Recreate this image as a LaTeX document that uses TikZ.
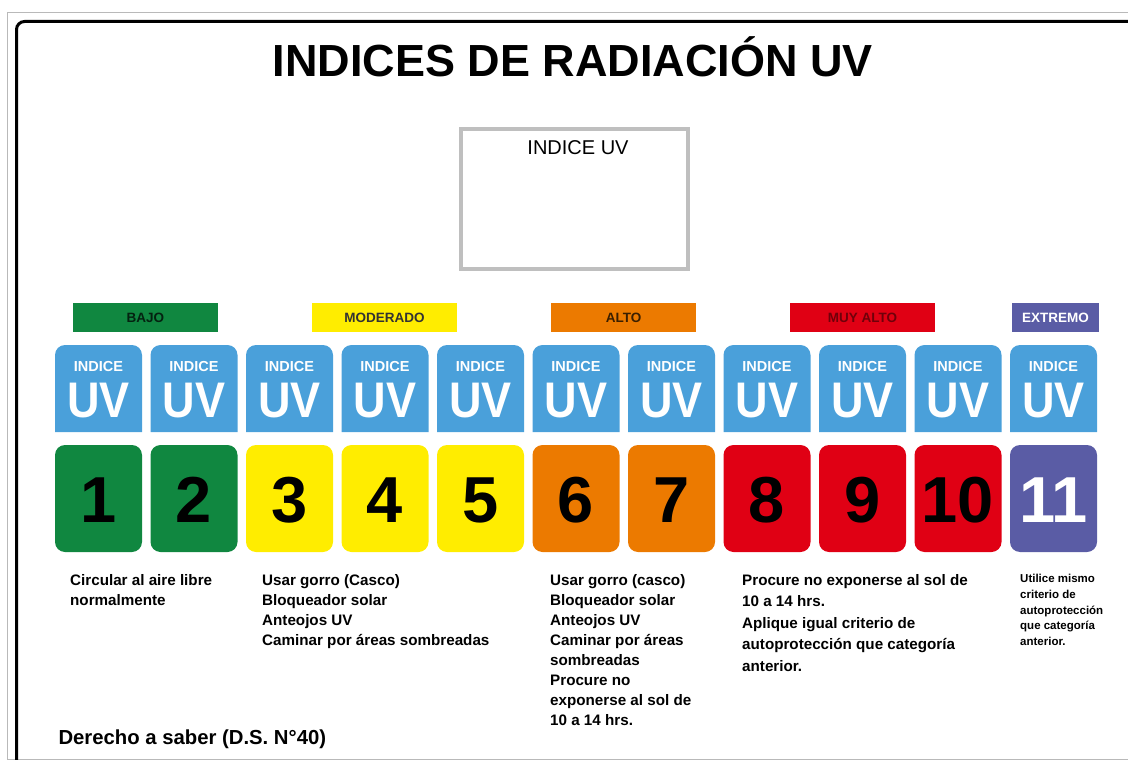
\documentclass[tikz,border=0pt]{standalone}
\usepackage{fontspec}
\setmainfont{Liberation Sans}
\definecolor{uvblue}{RGB}{74,160,218}
\definecolor{uvgreen}{RGB}{16,135,64}
\definecolor{uvyellow}{RGB}{255,237,0}
\definecolor{uvorange}{RGB}{236,122,0}
\definecolor{uvred}{RGB}{224,0,20}
\definecolor{uvpurple}{RGB}{90,92,165}
\tikzset{
  catbar/.style={fill=#1, minimum height=29pt, inner sep=0pt,
    font=\fontsize{13.5}{15}\selectfont\bfseries},
  desc/.style={anchor=north west, align=left, inner sep=0pt,
    font=\fontsize{15.2}{20}\selectfont\bfseries}
}
\begin{document}
\begin{tikzpicture}[x=1pt,y=-1pt]
      \useasboundingbox (0,0) rectangle (1128,760);
      \clip (0,0) rectangle (1128,760);
      % frame
      \draw[gray!55] (7,12) rectangle (1140,759);
      \draw[line width=3pt, rounded corners=8pt] (16.5,800) -- (16.5,21.5) -- (1140,21.5);
      \node[anchor=base, font=\fontsize{45}{50}\selectfont\bfseries] (title) at (573,77) {INDICES DE RADIACIÓN UV};
      % display
      \node[draw=gray!50, line width=4pt, minimum width=227pt, minimum height=140pt] (display) at (574.5,198.5) {};
      \node[anchor=base, font=\fontsize{20}{24}\selectfont] (disptext) at (578,154) {INDICE UV};
      % categories
      \foreach \k/\nm/\cx/\w/\c/\t in {1/BAJO/145.5/145/uvgreen/black!75!uvgreen,
          2/MODERADO/384.5/145/uvyellow/black!80,
          3/ALTO/623.5/145/uvorange/black!75!uvorange,
          4/MUY ALTO/862.5/145/uvred/black!50!uvred,
          5/EXTREMO/1055.5/87/uvpurple/white}
        \node[catbar=\c, minimum width=\w pt, text=\t] (cat\k) at (\cx,317.5) {\nm};
      % tiles
      \foreach \i/\c/\t in {1/uvgreen/black, 2/uvgreen/black, 3/uvyellow/black,
          4/uvyellow/black, 5/uvyellow/black, 6/uvorange/black, 7/uvorange/black,
          8/uvred/black, 9/uvred/black, 10/uvred/black, 11/uvpurple/white} {
        \pgfmathsetmacro\xl{55+(\i-1)*95.5}
        \fill[uvblue] (\xl,432) [rounded corners=10pt] -- (\xl,345) -- (\xl+87,345) [sharp corners] -- (\xl+87,432) -- cycle;
        \node[text=white, font=\fontsize{14.5}{16}\selectfont\bfseries] (ind\i) at (\xl+43.5,367) {INDICE};
        \node[anchor=base, text=white, xscale=0.9, font=\fontsize{50}{52}\selectfont\bfseries] (uv\i) at (\xl+43.5,417) {UV};
        \fill[\c, rounded corners=10pt] (\xl,445) rectangle (\xl+87,552);
        \node[anchor=base, text=\t, font=\fontsize{65}{68}\selectfont\bfseries] (num\i) at (\xl+43.5,522) {\i};
      }
      % texts
      \node[desc] (desc1) at (70,574) {Circular al aire libre\\normalmente};
      \node[desc] (desc2) at (262,574) {Usar gorro (Casco)\\Bloqueador solar\\Anteojos UV\\Caminar por áreas sombreadas};
      \node[desc] (desc3) at (550,574) {Usar gorro (casco)\\Bloqueador solar\\Anteojos UV\\Caminar por áreas\\sombreadas\\Procure no\\exponerse al sol de\\10 a 14 hrs.};
      \node[desc, font=\fontsize{15.2}{21.5}\selectfont\bfseries] (desc4) at (742,574) {Procure no exponerse al sol de\\10 a 14 hrs.\\Aplique igual criterio de\\autoprotección que categoría\\anterior.};
      \node[desc, font=\fontsize{11.5}{15.8}\selectfont\bfseries] (desc5) at (1020,574) {Utilice mismo\\criterio de\\autoprotección\\que categoría\\anterior.};
      \node[anchor=base west, font=\fontsize{20.3}{22}\selectfont\bfseries] (footer) at (55,744) {Derecho a saber (D.S. N°40)};
\end{tikzpicture}
\end{document}
